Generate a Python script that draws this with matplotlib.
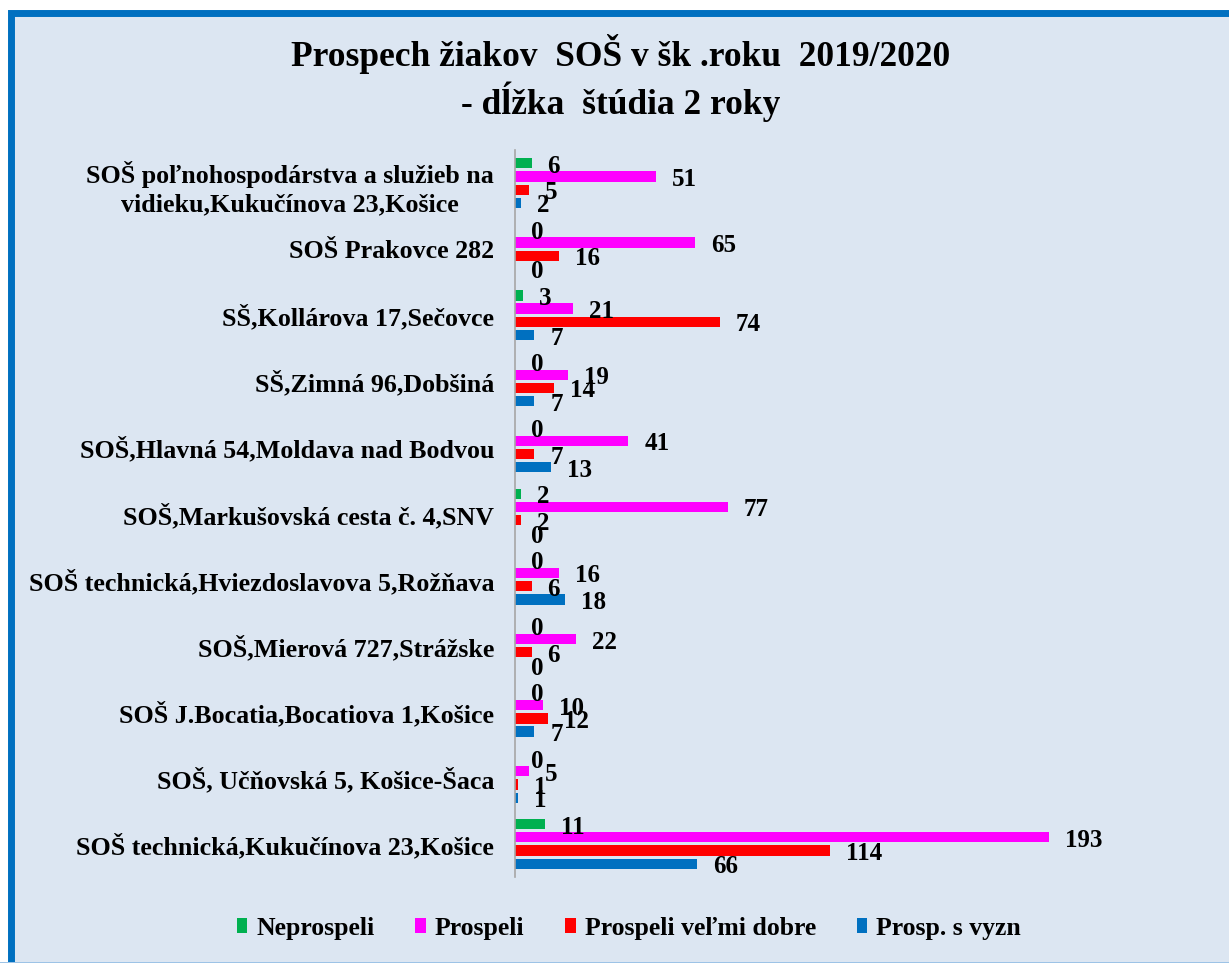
import numpy as np
import matplotlib.pyplot as plt
from matplotlib.patches import Rectangle

plt.rcParams['font.family'] = ['Liberation Serif', 'DejaVu Serif']
plt.rcParams['font.weight'] = 'bold'

schools = [
    'SOŠ poľnohospodárstva a služieb na\nvidieku,Kukučínova 23,Košice',
    'SOŠ Prakovce 282',
    'SŠ,Kollárova 17,Sečovce',
    'SŠ,Zimná 96,Dobšiná',
    'SOŠ,Hlavná 54,Moldava nad Bodvou',
    'SOŠ,Markušovská cesta č. 4,SNV',
    'SOŠ technická,Hviezdoslavova 5,Rožňava',
    'SOŠ,Mierová 727,Strážske',
    'SOŠ J.Bocatia,Bocatiova 1,Košice',
    'SOŠ, Učňovská 5, Košice-Šaca',
    'SOŠ technická,Kukučínova 23,Košice',
]
neprospeli = [6, 0, 3, 0, 0, 2, 0, 0, 0, 0, 11]
prospeli = [51, 65, 21, 19, 41, 77, 16, 22, 10, 5, 193]
velmi_dobre = [5, 16, 74, 14, 7, 2, 6, 6, 12, 1, 114]
s_vyzn = [2, 0, 7, 7, 13, 0, 18, 0, 7, 1, 66]

series = [
    ('Neprospeli', neprospeli, '#00B050'),
    ('Prospeli', prospeli, '#FF00FF'),
    ('Prospeli veľmi dobre', velmi_dobre, '#FF0000'),
    ('Prosp. s vyzn', s_vyzn, '#0070C0'),
]

bg = '#DCE6F2'
fig = plt.figure(figsize=(12.29, 9.63), dpi=100)
fig.patch.set_facecolor('white')
# chart area with blue frame (only top and left edge visible)
fig.patches.append(Rectangle((10.5 / 1229, -0.02), 1.1, 1 - 13.5 / 963 + 0.02,
                             transform=fig.transFigure, facecolor=bg,
                             edgecolor='#0070C0', linewidth=5, zorder=-10))
fig.patches.append(Rectangle((0, 0), 1, 1.5 / 963, transform=fig.transFigure,
                             facecolor='#9DC3E6', edgecolor='none', zorder=-9))

ax = fig.add_axes([515 / 1229, 1 - 877 / 963, 553 / 1229, 727 / 963])
ax.set_facecolor('none')

y = np.arange(len(schools))
offsets = [-0.3, -0.1, 0.1, 0.3]
for (name, vals, col), off in zip(series, offsets):
    bars = ax.barh(y + off, vals, height=0.155, color=col, label=name)
    for b, v in zip(bars, vals):
        ax.annotate(str(v), (b.get_width(), b.get_y() + b.get_height() / 2),
                    xytext=(16, -3), textcoords='offset pixels',
                    ha='left', va='center', fontsize=18, fontweight='bold')

ax.set_xlim(0, 200)
ax.set_ylim(len(schools) - 0.5, -0.5)
ax.set_yticks(y)
ax.set_yticklabels(schools, fontsize=18.7, fontweight='bold', linespacing=1.3)
ax.tick_params(axis='y', length=0, pad=15)
ax.set_xticks([])
for s in ['top', 'right', 'bottom']:
    ax.spines[s].set_visible(False)
ax.spines['left'].set_color('#A6A6A6')
ax.spines['left'].set_linewidth(1.2)
for lbl in ax.get_yticklabels():
    lbl.set_horizontalalignment('right')
    lbl.set_multialignment('center')

fig.text(621 / 1229, 1 - 78 / 963,
         'Prospech žiakov  SOŠ v šk .roku  2019/2020\n- dĺžka  štúdia 2 roky',
         ha='center', va='center', fontsize=25.5, fontweight='bold',
         linespacing=1.2)

fig.legend(loc='center', bbox_to_anchor=(629 / 1229, 1 - 928 / 963),
           ncol=4, frameon=False, handlelength=0.4,
           handleheight=0.55, handletextpad=0.35, columnspacing=1.6,
           prop={'weight': 'bold', 'size': 18.5})

fig.savefig('out.png', dpi=100, facecolor=fig.get_facecolor())
